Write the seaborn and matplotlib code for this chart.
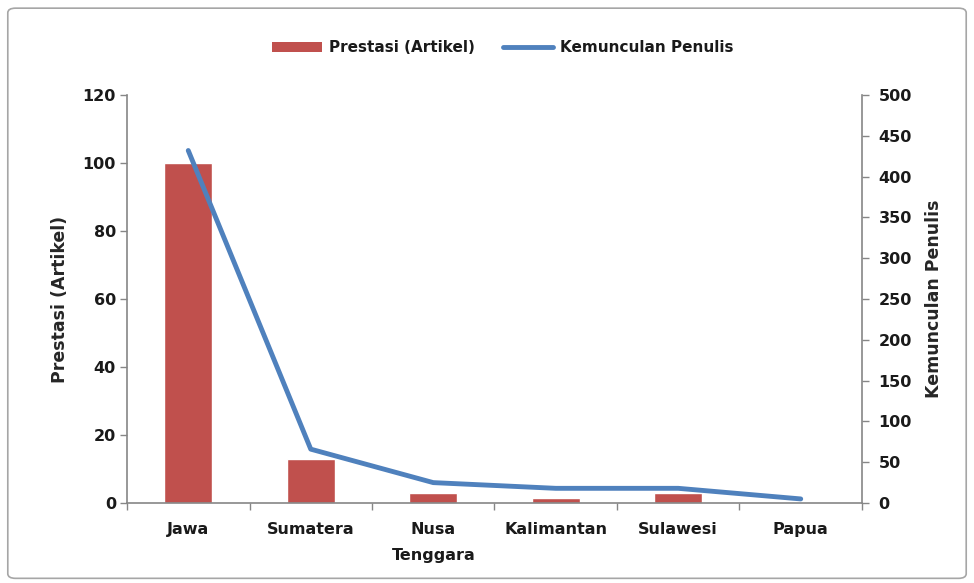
import numpy as np
import pandas as pd
import matplotlib
matplotlib.use("Agg")
import matplotlib.pyplot as plt
from matplotlib.patches import FancyBboxPatch, Patch
from matplotlib.lines import Line2D
from matplotlib.ticker import FixedLocator
import seaborn as sns

# Data
regions = ["Jawa", "Sumatera", "Nusa Tenggara", "Kalimantan", "Sulawesi", "Papua"]
tick_labels = ["Jawa", "Sumatera", "Nusa\nTenggara", "Kalimantan", "Sulawesi", "Papua"]
articles = [100, 13, 3, 1.5, 3, 0]
authors = [432, 66, 25, 18, 18, 5]

BAR_COLOR = "#C0504D"
LINE_COLOR = "#4F81BD"
AXIS_COLOR = "#868686"
TEXT_COLOR = "#1A1A1A"

sns.set_theme(style="white")
plt.rcParams["font.family"] = ["DejaVu Sans"]
plt.rcParams["text.color"] = TEXT_COLOR
plt.rcParams["xtick.color"] = TEXT_COLOR
plt.rcParams["ytick.color"] = TEXT_COLOR

df = pd.DataFrame({"region": regions, "articles": articles, "authors": authors})

fig = plt.figure(figsize=(9.74, 5.83), dpi=100)
ax = fig.add_axes([0.1304, 0.1372, 0.7546, 0.6998])

# Outer chart frame
frame = FancyBboxPatch((0.008, 0.008), 0.984, 0.978,
                       boxstyle="round,pad=0,rounding_size=0.008",
                       transform=fig.transFigure, facecolor="white",
                       edgecolor="#A6A6A6", linewidth=1.2, zorder=-10)
fig.patches.append(frame)

sns.barplot(data=df, x="region", y="articles", color=BAR_COLOR,
            width=0.39, saturation=1, ax=ax, zorder=2)

ax2 = ax.twinx()
sns.lineplot(x=np.arange(len(regions)), y=df["authors"], color=LINE_COLOR,
             linewidth=3.5, ax=ax2, zorder=3)

ax.set_xlim(-0.5, len(regions) - 0.5)
ax.set_ylim(0, 120)
ax2.set_ylim(0, 500)
ax.set_yticks(np.arange(0, 121, 20))
ax2.set_yticks(np.arange(0, 501, 50))

ax.set_xticks(np.arange(len(regions)))
ax.set_xticklabels(tick_labels, fontsize=11.5, fontweight="bold", linespacing=1.9)
ax.xaxis.set_minor_locator(FixedLocator(np.arange(-0.5, len(regions), 1.0)))
ax.tick_params(axis="x", which="major", length=0, pad=14)
ax.tick_params(axis="x", which="minor", length=5, width=1, color=AXIS_COLOR,
               direction="out", bottom=True)
ax.tick_params(axis="y", which="major", length=5, width=1, color=AXIS_COLOR,
               direction="out", left=True, labelsize=11.5, pad=3)
ax2.tick_params(axis="y", which="major", length=5, width=1, color=AXIS_COLOR,
                direction="out", right=True, labelsize=11.5, pad=7)
for lab in ax.get_yticklabels() + ax2.get_yticklabels():
    lab.set_fontweight("bold")

for a in (ax, ax2):
    a.spines["top"].set_visible(False)
    for side in ("left", "right", "bottom"):
        a.spines[side].set_color(AXIS_COLOR)
        a.spines[side].set_linewidth(1.2)
ax.spines["right"].set_visible(False)
ax2.spines["left"].set_visible(False)
ax2.spines["bottom"].set_visible(False)

ax.set_xlabel("")
ax.set_ylabel("Prestasi (Artikel)", fontsize=12.5, fontweight="bold", labelpad=10)
ax2.set_ylabel("Kemunculan Penulis", fontsize=12.5, fontweight="bold", labelpad=9)

handles = [Patch(facecolor=BAR_COLOR, edgecolor="none"),
           Line2D([0], [0], color=LINE_COLOR, linewidth=3.5)]
fig.legend(handles, ["Prestasi (Artikel)", "Kemunculan Penulis"],
           loc="center", bbox_to_anchor=(0.516, 0.918), ncol=2, frameon=False,
           prop={"weight": "bold", "size": 11}, handlelength=3.3,
           handletextpad=0.45, columnspacing=1.8, handleheight=0.7)

fig.savefig("out.png", dpi=100)
